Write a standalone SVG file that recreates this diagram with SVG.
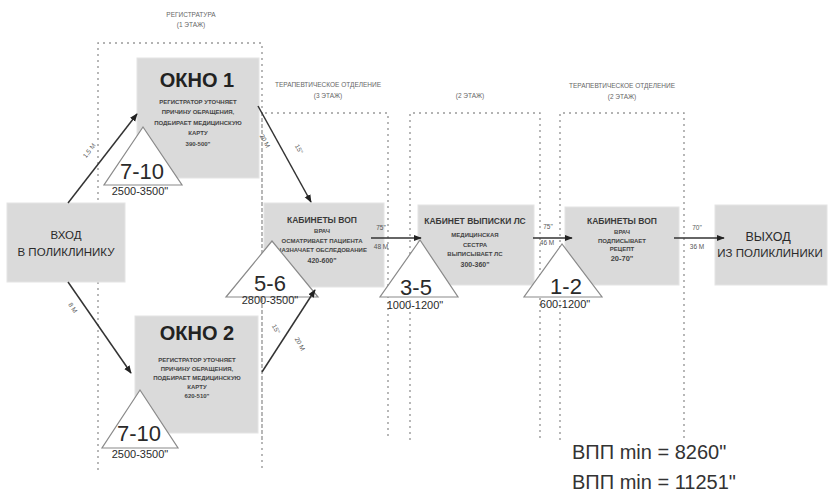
<svg xmlns="http://www.w3.org/2000/svg" width="829" height="499" viewBox="0 0 829 499">
<style>
.box{fill:#dadada;stroke:#e4e4e4;stroke-width:1}
.zone{fill:none;stroke:#9a9a9a;stroke-width:1.4;stroke-dasharray:2 4}
.tri{fill:#ffffff;stroke:#8a8a8a;stroke-width:1.2}
.t{font-family:"Liberation Sans",Arial,sans-serif;fill:#2e2e2e;text-anchor:middle}
.big{font-size:20px;font-weight:bold;fill:#222}
.num{font-size:22px;fill:#2a2a2a}
.rng{font-size:11px;fill:#2a2a2a}
.sm{font-size:6px;font-weight:bold;fill:#444}
.hd{font-size:8.5px;font-weight:bold;fill:#3a3a3a}
.nm{font-size:11.5px;fill:#2a2a2a}
.zt{font-size:6.5px;fill:#666}
.lb{font-size:6.5px;fill:#555}
.res{font-family:"Liberation Sans",Arial,sans-serif;font-size:20px;fill:#333}
.con{stroke:#333;stroke-width:1.5;fill:none;marker-end:url(#ah)}
</style>
<defs>
<marker id="ah" viewBox="0 0 10 10" refX="9" refY="5" markerWidth="8" markerHeight="8" orient="auto" markerUnits="userSpaceOnUse">
<path d="M0,1 L10,5 L0,9 z" fill="#222"/>
</marker>
</defs>
<rect width="829" height="499" fill="#ffffff"/>

<g id="zones">
<path class="zone" d="M98,470 V43 H262 V470"/>
<text class="t zt" x="191" y="17">РЕГИСТРАТУРА</text>
<text class="t zt" x="191" y="27">(1 ЭТАЖ)</text>
<path class="zone" d="M262,440 V113 H388 V440"/>
<text class="t zt" x="328" y="87">ТЕРАПЕВТИЧЕСКОЕ ОТДЕЛЕНИЕ</text>
<text class="t zt" x="328" y="98">(3 ЭТАЖ)</text>
<path class="zone" d="M410,440 V113 H540 V440"/>
<text class="t zt" x="470" y="98">(2 ЭТАЖ)</text>
<path class="zone" d="M560,440 V113 H684 V440"/>
<text class="t zt" x="622" y="88">ТЕРАПЕВТИЧЕСКОЕ ОТДЕЛЕНИЕ</text>
<text class="t zt" x="622" y="99">(2 ЭТАЖ)</text>
</g>

<g id="vhod">
<rect class="box" x="7" y="203" width="118" height="79"/>
<text class="t nm" x="66" y="239">ВХОД</text>
<text class="t nm" x="66" y="256">В ПОЛИКЛИНИКУ</text>
</g>

<g id="okno1">
<rect class="box" x="137" y="58" width="122" height="120"/>
<text class="t big" x="197" y="87">ОКНО 1</text>
<text class="t sm" x="198" y="104">РЕГИСТРАТОР УТОЧНЯЕТ</text>
<text class="t sm" x="198" y="114">ПРИЧИНУ ОБРАЩЕНИЯ,</text>
<text class="t sm" x="198" y="125">ПОДБИРАЕТ МЕДИЦИНСКУЮ</text>
<text class="t sm" x="198" y="135">КАРТУ</text>
<text class="t sm" x="198" y="146">390-500"</text>
</g>

<g id="okno2">
<rect class="box" x="135" y="316" width="123" height="117"/>
<text class="t big" x="197" y="340">ОКНО 2</text>
<text class="t sm" x="197" y="362">РЕГИСТРАТОР УТОЧНЯЕТ</text>
<text class="t sm" x="197" y="371">ПРИЧИНУ ОБРАЩЕНИЯ,</text>
<text class="t sm" x="197" y="380">ПОДБИРАЕТ МЕДИЦИНСКУЮ</text>
<text class="t sm" x="197" y="389">КАРТУ</text>
<text class="t sm" x="197" y="398">620-510"</text>
</g>

<g id="kab-vop-1">
<rect class="box" x="264" y="203" width="120" height="84"/>
<text class="t hd" x="322" y="223">КАБИНЕТЫ ВОП</text>
<text class="t sm" x="322" y="233">ВРАЧ</text>
<text class="t sm" x="322" y="243">ОСМАТРИВАЕТ ПАЦИЕНТА</text>
<text class="t sm" x="322" y="252">НАЗНАЧАЕТ ОБСЛЕДОВАНИЕ</text>
<text class="t sm" x="322" y="263" style="font-size:7px">420-600"</text>
</g>

<g id="kab-vypiski">
<rect class="box" x="418" y="205" width="116" height="80"/>
<text class="t hd" x="475" y="224">КАБИНЕТ ВЫПИСКИ ЛС</text>
<text class="t sm" x="475" y="237">МЕДИЦИНСКАЯ</text>
<text class="t sm" x="475" y="247">СЕСТРА</text>
<text class="t sm" x="475" y="256">ВЫПИСЫВАЕТ ЛС</text>
<text class="t sm" x="475" y="267" style="font-size:7px">300-360"</text>
</g>

<g id="kab-vop-2">
<rect class="box" x="565" y="207" width="114" height="78"/>
<text class="t hd" x="622" y="224">КАБИНЕТЫ ВОП</text>
<text class="t sm" x="622" y="234">ВРАЧ</text>
<text class="t sm" x="622" y="243">ПОДПИСЫВАЕТ</text>
<text class="t sm" x="622" y="251">РЕЦЕПТ</text>
<text class="t sm" x="622" y="261" style="font-size:7.5px">20-70"</text>
</g>

<g id="vyhod">
<rect class="box" x="715" y="205" width="112" height="80"/>
<text class="t nm" x="768" y="241" style="font-size:12.5px">ВЫХОД</text>
<text class="t nm" x="770" y="257">ИЗ ПОЛИКЛИНИКИ</text>
</g>

<g id="tri-7-10-top">
<polygon class="tri" points="143,127 104,185 182,185"/>
<text class="t num" x="142" y="179">7-10</text>
<text class="t rng" x="140" y="195">2500-3500"</text>
</g>

<g id="tri-7-10-bottom">
<polygon class="tri" points="140,390 102,448 178,448"/>
<text class="t num" x="139" y="441">7-10</text>
<text class="t rng" x="140" y="458">2500-3500"</text>
</g>

<g id="tri-5-6">
<polygon class="tri" points="272,241 226,297 318,297"/>
<text class="t num" x="270" y="291">5-6</text>
<text class="t rng" x="270" y="304">2800-3500"</text>
</g>

<g id="tri-3-5">
<polygon class="tri" points="420,240 380,297 458,297"/>
<text class="t num" x="416" y="295">3-5</text>
<text class="t rng" x="415" y="309">1000-1200"</text>
</g>

<g id="tri-1-2">
<polygon class="tri" points="562,244 524,297 602,297"/>
<text class="t num" x="566" y="294">1-2</text>
<text class="t rng" x="565" y="308">600-1200"</text>
</g>

<g id="connectors">
<line class="con" x1="68" y1="203" x2="137" y2="114"/>
<text class="t lb" transform="translate(91,152) rotate(-52)">1,5 М</text>
<line class="con" x1="68" y1="282" x2="131" y2="373"/>
<text class="t lb" transform="translate(71,309) rotate(56)">8 М</text>
<line class="con" x1="258" y1="106" x2="311" y2="202"/>
<text class="t lb" transform="translate(263,142) rotate(62)">20 М</text>
<text class="t lb" transform="translate(297,150) rotate(62)">15"</text>
<line class="con" x1="262" y1="372" x2="315" y2="290"/>
<text class="t lb" transform="translate(274,330) rotate(62)">15"</text>
<text class="t lb" transform="translate(298,345) rotate(62)">20 М</text>
<line class="con" x1="371" y1="238" x2="421" y2="238"/>
<text class="t lb" x="381" y="230">75"</text>
<text class="t lb" x="381" y="249">48 М</text>
<line class="con" x1="533" y1="238" x2="572" y2="238"/>
<text class="t lb" x="548" y="229">75"</text>
<text class="t lb" x="547" y="245">46 М</text>
<line class="con" x1="674" y1="238" x2="724" y2="238"/>
<text class="t lb" x="697" y="230">70"</text>
<text class="t lb" x="697" y="249">36 М</text>
</g>

<g id="totals">
<text class="res" x="572" y="459">ВПП min = 8260"</text>
<text class="res" x="572" y="489">ВПП min = 11251"</text>
</g>
</svg>
